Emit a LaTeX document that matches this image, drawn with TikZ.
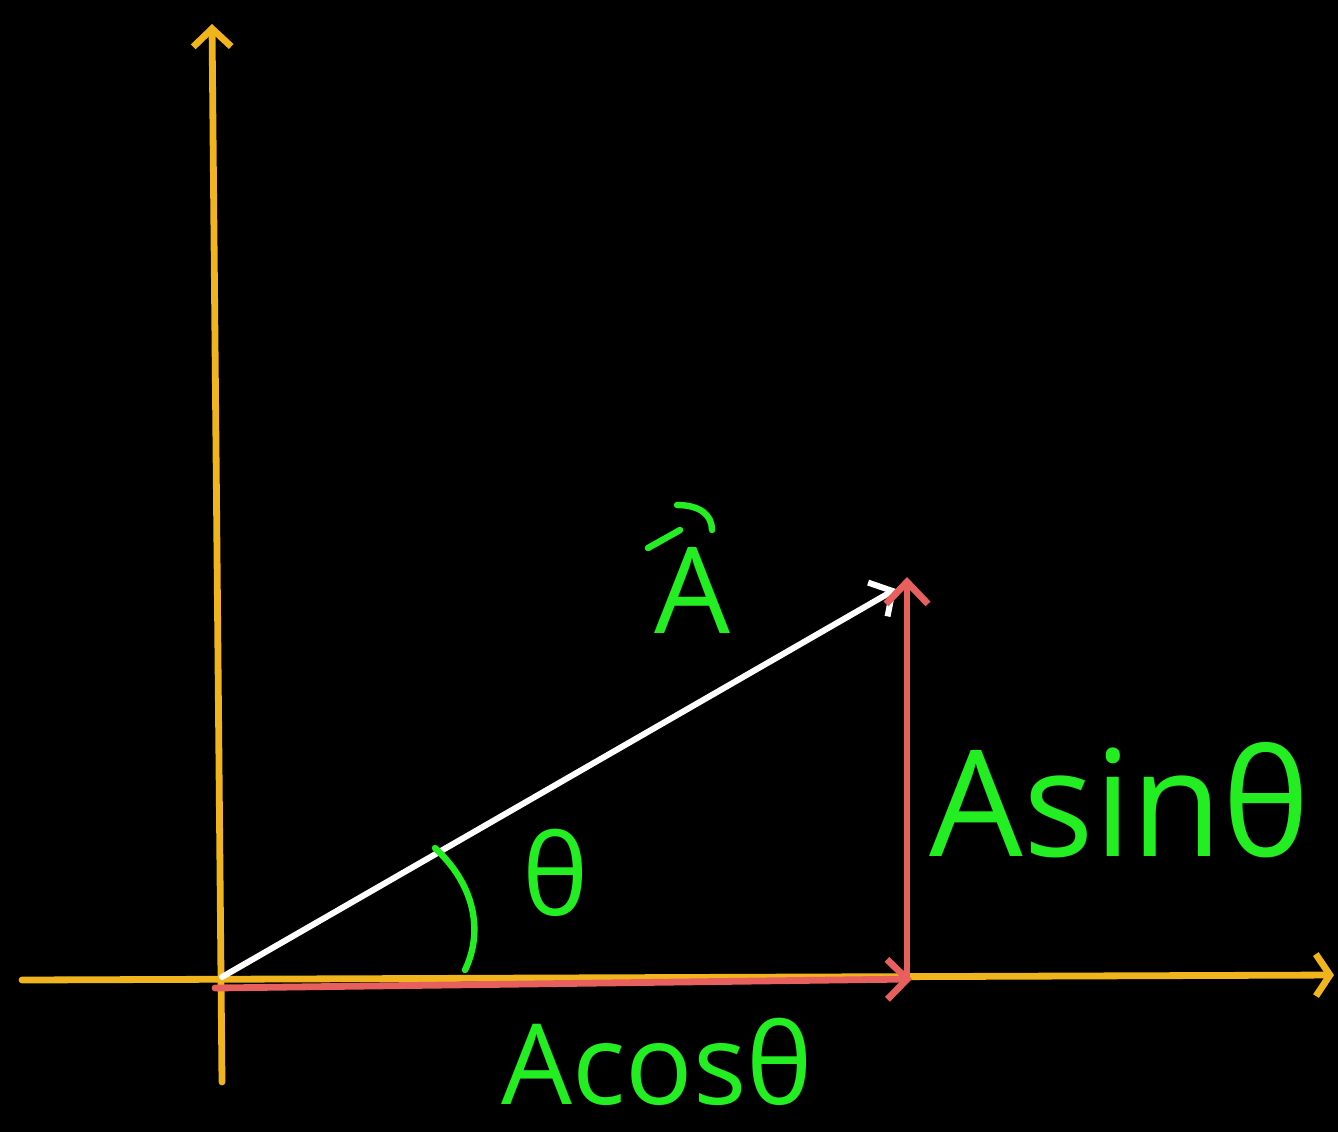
\documentclass[tikz,border=0pt]{standalone}
\usepackage{fontspec}
\setmainfont{Open Sans}
\usetikzlibrary{arrows.meta}
\definecolor{axisyellow}{HTML}{F0B41C}
\definecolor{compred}{HTML}{E8605E}
\definecolor{labelgreen}{HTML}{22EE22}
\begin{document}
\begin{tikzpicture}[x=0.5pt,y=-0.5pt,line cap=round,line join=round,
  axisline/.style={draw=axisyellow,line width=3.4pt},
  vecline/.style={draw=white,line width=3pt},
  compline/.style={draw=compred,line width=3.4pt},
  greenstroke/.style={draw=labelgreen,line width=3.2pt},
  lbl/.style={text=labelgreen,inner sep=0pt}]
\fill[black] (0,0) rectangle (1338,1132);
\useasboundingbox (0,0) rectangle (1338,1132);
% coordinates
\coordinate (O) at (222,977);
\coordinate (vb) at (222,1082);
\coordinate (vt) at (212,24);
\coordinate (hl) at (22,980);
\coordinate (hr) at (1334,975);
\coordinate (P) at (896,589);
\coordinate (rs) at (215,988);
\coordinate (re) at (912,979);
\coordinate (us) at (907,975);
\coordinate (ue) at (907,577);
% axes
\draw[axisline,-{Straight Barb[length=9pt,width=19pt]}] (vb) -- (vt);
\draw[axisline,-{Straight Barb[length=7pt,width=21pt]}] (hl) -- (hr);
% components
\draw[compline,-{Straight Barb[length=10pt,width=20pt]}] (rs) -- (re);
% vector A
\draw[vecline,-{Straight Barb[length=8.5pt,width=19.5pt]}] (O) -- (P);
\draw[compline,-{Straight Barb[length=11pt,width=21pt]}] (us) -- (ue);
% angle arc
\draw[greenstroke] (435,848) .. controls (478,888) and (482,935) .. (465,970);
% labels
\node[lbl,font=\fontsize{56}{60}\selectfont] (theta) at (556,873) {θ};
\node[lbl,font=\fontsize{60}{66}\selectfont] (Alabel) at (692,590) {A};
\draw[greenstroke] (648,548) -- (680,530);
\draw[greenstroke] (677,505) .. controls (700,505) and (712,515) .. (712,530);
\node[lbl,font=\fontsize{74}{80}\selectfont] (sinlbl) at (1120,800) {Asinθ};
\node[lbl,font=\fontsize{56}{60}\selectfont] (coslbl) at (657,1062) {Acosθ};
\end{tikzpicture}
\end{document}
